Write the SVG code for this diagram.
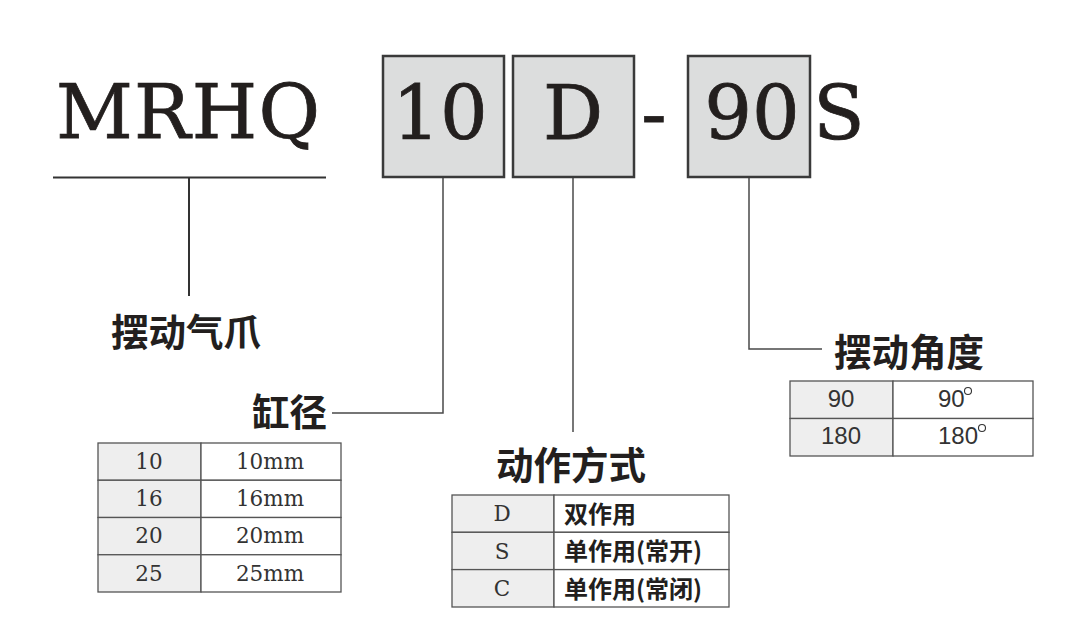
<svg xmlns="http://www.w3.org/2000/svg" width="1080" height="640" viewBox="0 0 1080 640">
<style>
.big{font-family:"DejaVu Serif","Liberation Serif",serif;font-size:75px;fill:#231f1e;stroke:#231f1e;stroke-width:0.8}
.box{fill:#dcdddd;stroke:#3a3a3a;stroke-width:2.5}
.ln{stroke:#4a4a4a;stroke-width:1.5;fill:none}
.lbl{font-family:"Noto Sans CJK SC",sans-serif;font-weight:bold;font-size:37.5px;fill:#231f1e}
.cell{stroke:#555;stroke-width:1.3;fill:#fff}
.cellg{stroke:#555;stroke-width:1.3;fill:#eeeeee}
.ts{font-family:"DejaVu Serif","Liberation Serif",serif;font-size:21.5px;fill:#333;text-anchor:middle}
.tn{font-family:"Liberation Sans","Noto Sans",sans-serif;font-size:24px;fill:#333}
.tc{font-family:"Noto Sans CJK SC",sans-serif;font-weight:bold;font-size:24px;fill:#231f1e}
.deg{fill:none;stroke:#333;stroke-width:1.1}
</style>
<rect width="1080" height="640" fill="#fff"/>
<g id="code">
<text class="big" x="56" y="138" textLength="264" lengthAdjust="spacing">MRHQ</text>
<rect class="box" x="383" y="56" width="121" height="121"/>
<rect class="box" x="513" y="56" width="121" height="121"/>
<rect class="box" x="688" y="56" width="122" height="121"/>
<text class="big" x="440" y="139" text-anchor="middle">10</text>
<text class="big" x="573" y="139" text-anchor="middle">D</text>
<text class="big" x="654" y="139" text-anchor="middle">-</text>
<text class="big" x="752" y="139" text-anchor="middle">90</text>
<text class="big" x="839" y="139" text-anchor="middle">S</text>
</g>
<g id="connectors">
<line class="ln" x1="53" y1="177.5" x2="326" y2="177.5" style="stroke:#333;stroke-width:2"/>
<line class="ln" x1="189" y1="177" x2="189" y2="296" style="stroke:#333;stroke-width:2"/>
<polyline class="ln" points="443,178 443,413 332,413"/>
<line class="ln" x1="573" y1="178" x2="573" y2="432"/>
<polyline class="ln" points="749,178 749,349 822,349"/>
</g>
<g id="n-gripper">
<text class="lbl" x="111" y="346">摆动气爪</text>
</g>
<g id="n-bore">
<text class="lbl" x="252" y="426">缸径</text>
<rect class="cellg" x="98" y="443" width="103" height="37.25"/>
<rect class="cell" x="201" y="443" width="140" height="37.25"/>
<rect class="cellg" x="98" y="480.25" width="103" height="37.25"/>
<rect class="cell" x="201" y="480.25" width="140" height="37.25"/>
<rect class="cellg" x="98" y="517.5" width="103" height="37.25"/>
<rect class="cell" x="201" y="517.5" width="140" height="37.25"/>
<rect class="cellg" x="98" y="554.75" width="103" height="37.25"/>
<rect class="cell" x="201" y="554.75" width="140" height="37.25"/>
<text class="ts" x="149" y="469">10</text><text class="ts" x="270" y="469">10mm</text>
<text class="ts" x="149" y="506">16</text><text class="ts" x="270" y="506">16mm</text>
<text class="ts" x="149" y="543">20</text><text class="ts" x="270" y="543">20mm</text>
<text class="ts" x="149" y="581">25</text><text class="ts" x="270" y="581">25mm</text>
</g>
<g id="n-action">
<text class="lbl" x="496" y="479">动作方式</text>
<rect class="cellg" x="452" y="495" width="102" height="37.3"/>
<rect class="cell" x="554" y="495" width="175" height="37.3"/>
<rect class="cellg" x="452" y="532.3" width="102" height="37.3"/>
<rect class="cell" x="554" y="532.3" width="175" height="37.3"/>
<rect class="cellg" x="452" y="569.6" width="102" height="37.4"/>
<rect class="cell" x="554" y="569.6" width="175" height="37.4"/>
<text class="ts" x="502" y="521">D</text><text class="tc" x="564" y="523">双作用</text>
<text class="ts" x="502" y="559">S</text><text class="tc" x="564" y="560">单作用(常开)</text>
<text class="ts" x="502" y="596">C</text><text class="tc" x="564" y="598">单作用(常闭)</text>
</g>
<g id="n-angle">
<text class="lbl" x="834" y="366">摆动角度</text>
<rect class="cellg" x="790" y="381" width="103" height="37.5"/>
<rect class="cell" x="893" y="381" width="140" height="37.5"/>
<rect class="cellg" x="790" y="418.5" width="103" height="37.5"/>
<rect class="cell" x="893" y="418.5" width="140" height="37.5"/>
<text class="tn" x="841" y="407" text-anchor="middle">90</text><text class="tn" x="938" y="407">90</text>
<circle class="deg" cx="968" cy="391" r="3.5"/>
<text class="tn" x="841" y="444" text-anchor="middle">180</text><text class="tn" x="938" y="444">180</text>
<circle class="deg" cx="982" cy="428" r="3.5"/>
</g>
</svg>
